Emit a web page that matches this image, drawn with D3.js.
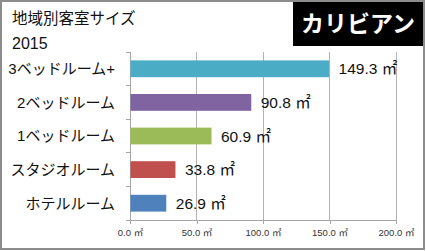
<html>
<head>
<meta charset="utf-8">
<script src="https://d3js.org/d3.v7.min.js"></script>
<style>
body { margin: 0; background: #fff; }
svg { display: block; }
text { font-family: "Liberation Sans", "Noto Sans CJK JP", sans-serif; }
.axis path, .axis line { stroke: #a6a6a6; shape-rendering: crispEdges; }
.grid line { stroke: #b3b3b3; shape-rendering: crispEdges; }
</style>
</head>
<body>
<svg width="426" height="251"></svg>
<script>

var categories = ["3ベッドルーム+", "2ベッドルーム", "1ベッドルーム", "スタジオルーム", "ホテルルーム"];
var values = [149.3, 90.8, 60.9, 33.8, 26.9];
var colors = ["#4bacc6", "#8064a2", "#9bbb59", "#c0504d", "#4f81bd"];
var xTicks = [0, 50, 100, 150, 200];

var svg = d3.select("svg"),
    margin = {top: 52, right: 30, bottom: 31, left: 130},
    width = +svg.attr("width") - margin.left - margin.right,
    height = +svg.attr("height") - margin.top - margin.bottom;

// frame
svg.append("rect")
    .attr("x", 1).attr("y", 1)
    .attr("width", 423).attr("height", 248)
    .attr("fill", "#fff")
    .attr("stroke", "#8c8c8c")
    .attr("stroke-width", 2);

// titles
svg.append("text").attr("x", 12).attr("y", 24).text("地域別客室サイズ")
    .style("font-size", "15.5px").attr("fill", "#111");
svg.append("text").attr("x", 12).attr("y", 49).text("2015")
    .style("font-size", "16px").attr("fill", "#111");

svg.append("rect").attr("x", 293).attr("y", 2).attr("width", 130).attr("height", 44).attr("fill", "#000");
svg.append("text").attr("x", 358).attr("y", 32).attr("text-anchor", "middle").text("カリビアン")
    .style("font-size", "23px").style("font-weight", "bold").attr("fill", "#fff");

var g = svg.append("g").attr("transform", "translate(" + margin.left + "," + margin.top + ")");

var x = d3.scaleLinear().domain([0, 200]).range([0, width]);
var y = d3.scaleBand().domain(categories).range([0, height])
    .paddingInner(0.5).paddingOuter(0.25);

// vertical grid
g.append("g").attr("class", "grid")
  .selectAll("line").data(xTicks.slice(1)).enter().append("line")
    .attr("x1", d => x(d)).attr("x2", d => x(d))
    .attr("y1", 0).attr("y2", height);

// x axis
g.append("g").attr("class", "axis")
    .attr("transform", "translate(0," + height + ")")
    .call(d3.axisBottom(x).tickValues(xTicks).tickSize(4).tickSizeOuter(0)
        .tickFormat(d => d3.format(".1f")(d) + " ㎡"))
    .call(a => a.selectAll("text").attr("fill", "#333").style("font-size", "9.5px").attr("dy", "0.9em"));

// y axis: ticks at category boundaries
g.append("g").attr("class", "axis")
    .call(a => a.append("line").attr("x1", 0).attr("x2", 0).attr("y1", 0).attr("y2", height))
    .selectAll(".b").data(d3.range(categories.length + 1)).enter().append("line")
    .attr("x1", -4).attr("x2", 0)
    .attr("y1", i => i * y.step()).attr("y2", i => i * y.step());

// category labels
g.selectAll(".cat").data(categories).enter().append("text")
    .attr("x", -15)
    .attr("y", d => y(d) + y.bandwidth() / 2)
    .attr("dy", "0.36em")
    .attr("text-anchor", "end")
    .style("font-size", "15px")
    .attr("fill", "#111")
    .text(d => d);

// bars
g.selectAll(".bar").data(values).enter().append("rect")
    .attr("x", x(0) + 0.5)
    .attr("y", (d, i) => y(categories[i]))
    .attr("width", d => x(d) - x(0))
    .attr("height", y.bandwidth())
    .attr("fill", (d, i) => colors[i]);

// value labels
g.selectAll(".val").data(values).enter().append("text")
    .attr("x", d => x(d) + 10)
    .attr("y", (d, i) => y(categories[i]) + y.bandwidth() / 2)
    .attr("dy", "0.36em")
    .style("font-size", "15.5px")
    .attr("fill", "#111")
    .text(d => d.toFixed(1) + " ㎡");

</script>
</body>
</html>
